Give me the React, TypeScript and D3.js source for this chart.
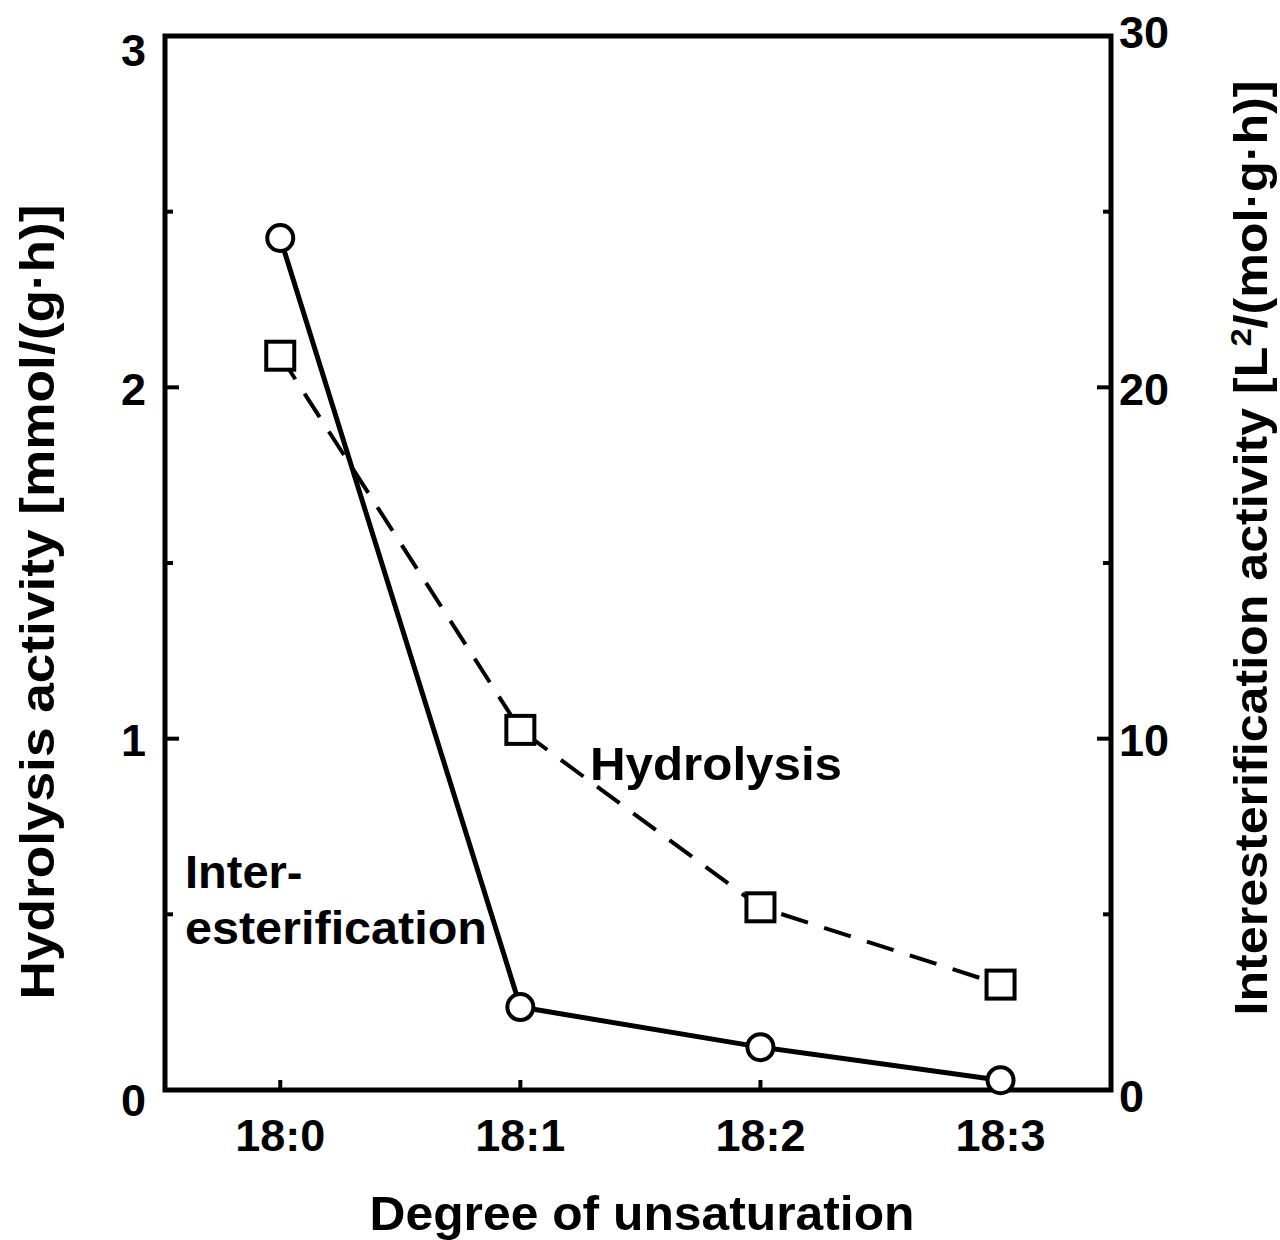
import React from "react";
import * as d3 from "d3";

const categories = ["18:0", "18:1", "18:2", "18:3"];
const hydrolysis = [2.09, 1.025, 0.52, 0.3];
const interesterification = [24.25, 2.36, 1.22, 0.28];
const leftTicks = [0, 1, 2, 3];
const leftMinor = [0.5, 1.5, 2.5];
const rightTicks = [0, 10, 20, 30];
const rightMinor = [5, 15, 25];

const W = 1280;
const H = 1240;
const L = 165, R = 1111, T = 36, B = 1090;
const FONT = "'Liberation Sans', Arial, Helvetica, sans-serif";

export default function App() {
  const x = d3.scaleLinear().domain([-0.48, 3.46]).range([L, R]);
  const yL = d3.scaleLinear().domain([0, 3]).range([B, T]);
  const yR = d3.scaleLinear().domain([0, 30]).range([B, T]);

  const line = d3.line<number>().x((_, i) => x(i)).y((d) => yL(d));
  const lineR = d3.line<number>().x((_, i) => x(i)).y((d) => yR(d));

  const leftOffset = (t: number) => (t === 3 ? 14 : t === 0 ? 10 : 2);
  const rightOffset = (t: number) => (t === 30 ? -4 : t === 0 ? 6 : 2);

  return (
    <svg width={W} height={H} style={{ position: "absolute", left: 0, top: 0, background: "#fff" }}
      fontFamily={FONT} fontWeight="bold">
      <rect x={0} y={0} width={W} height={H} fill="#fff" />
      {/* lines */}
      <path d={line(hydrolysis) || ""} fill="none" stroke="#000" strokeWidth={4} strokeDasharray="28,17" />
      <path d={lineR(interesterification) || ""} fill="none" stroke="#000" strokeWidth={5} />
      {/* frame */}
      <rect x={L} y={T} width={R - L} height={B - T} fill="none" stroke="#000" strokeWidth={5} />
      {/* left ticks */}
      {leftTicks.map((t) => (
        <g key={"l" + t}>
          <line x1={L} x2={L + 14} y1={yL(t)} y2={yL(t)} stroke="#000" strokeWidth={4} />
          <text x={146} y={yL(t) + leftOffset(t)} textAnchor="end" dominantBaseline="central" fontSize={45}>{t}</text>
        </g>
      ))}
      {leftMinor.map((t) => (
        <line key={"lm" + t} x1={L} x2={L + 8} y1={yL(t)} y2={yL(t)} stroke="#000" strokeWidth={4} />
      ))}
      {/* right ticks */}
      {rightTicks.map((t) => (
        <g key={"r" + t}>
          <line x1={R} x2={R - 14} y1={yR(t)} y2={yR(t)} stroke="#000" strokeWidth={4} />
          <text x={1119} y={yR(t) + rightOffset(t)} textAnchor="start" dominantBaseline="central" fontSize={45}>{t}</text>
        </g>
      ))}
      {rightMinor.map((t) => (
        <line key={"rm" + t} x1={R} x2={R - 8} y1={yR(t)} y2={yR(t)} stroke="#000" strokeWidth={4} />
      ))}
      {/* bottom ticks */}
      {categories.map((c, i) => (
        <g key={c}>
          <line x1={x(i)} x2={x(i)} y1={B} y2={B - 10} stroke="#000" strokeWidth={4} />
          <text x={x(i)} y={1151} textAnchor="middle" fontSize={45}>{c}</text>
        </g>
      ))}
      {/* markers */}
      {hydrolysis.map((v, i) => (
        <rect key={"s" + i} x={x(i) - 14} y={yL(v) - 14} width={28} height={28} fill="#fff" stroke="#000" strokeWidth={4} />
      ))}
      {interesterification.map((v, i) => (
        <circle key={"c" + i} cx={x(i)} cy={yR(v)} r={13} fill="#fff" stroke="#000" strokeWidth={4} />
      ))}
      {/* annotations */}
      <text x={185} y={888} fontSize={47}>Inter-</text>
      <text x={185} y={944} fontSize={47} textLength={302} lengthAdjust="spacingAndGlyphs">esterification</text>
      <text x={590} y={780} fontSize={47} textLength={252} lengthAdjust="spacingAndGlyphs">Hydrolysis</text>
      {/* axis titles */}
      <text x={642} y={1230} textAnchor="middle" fontSize={49} textLength={545} lengthAdjust="spacingAndGlyphs">Degree of unsaturation</text>
      <text transform={`translate(54, 602) rotate(-90)`} textAnchor="middle" fontSize={48}
        textLength={795} lengthAdjust="spacingAndGlyphs">
        Hydrolysis activity [mmol/(g·h)]
      </text>
      <text transform={`translate(1267, 548) rotate(-90)`} textAnchor="middle" fontSize={46}
        textLength={935} lengthAdjust="spacingAndGlyphs">
        Interesterification activity [L<tspan dy={-16} fontSize={30}>2</tspan><tspan dy={16}>/(mol·g·h)]</tspan>
      </text>
    </svg>
  );
}
